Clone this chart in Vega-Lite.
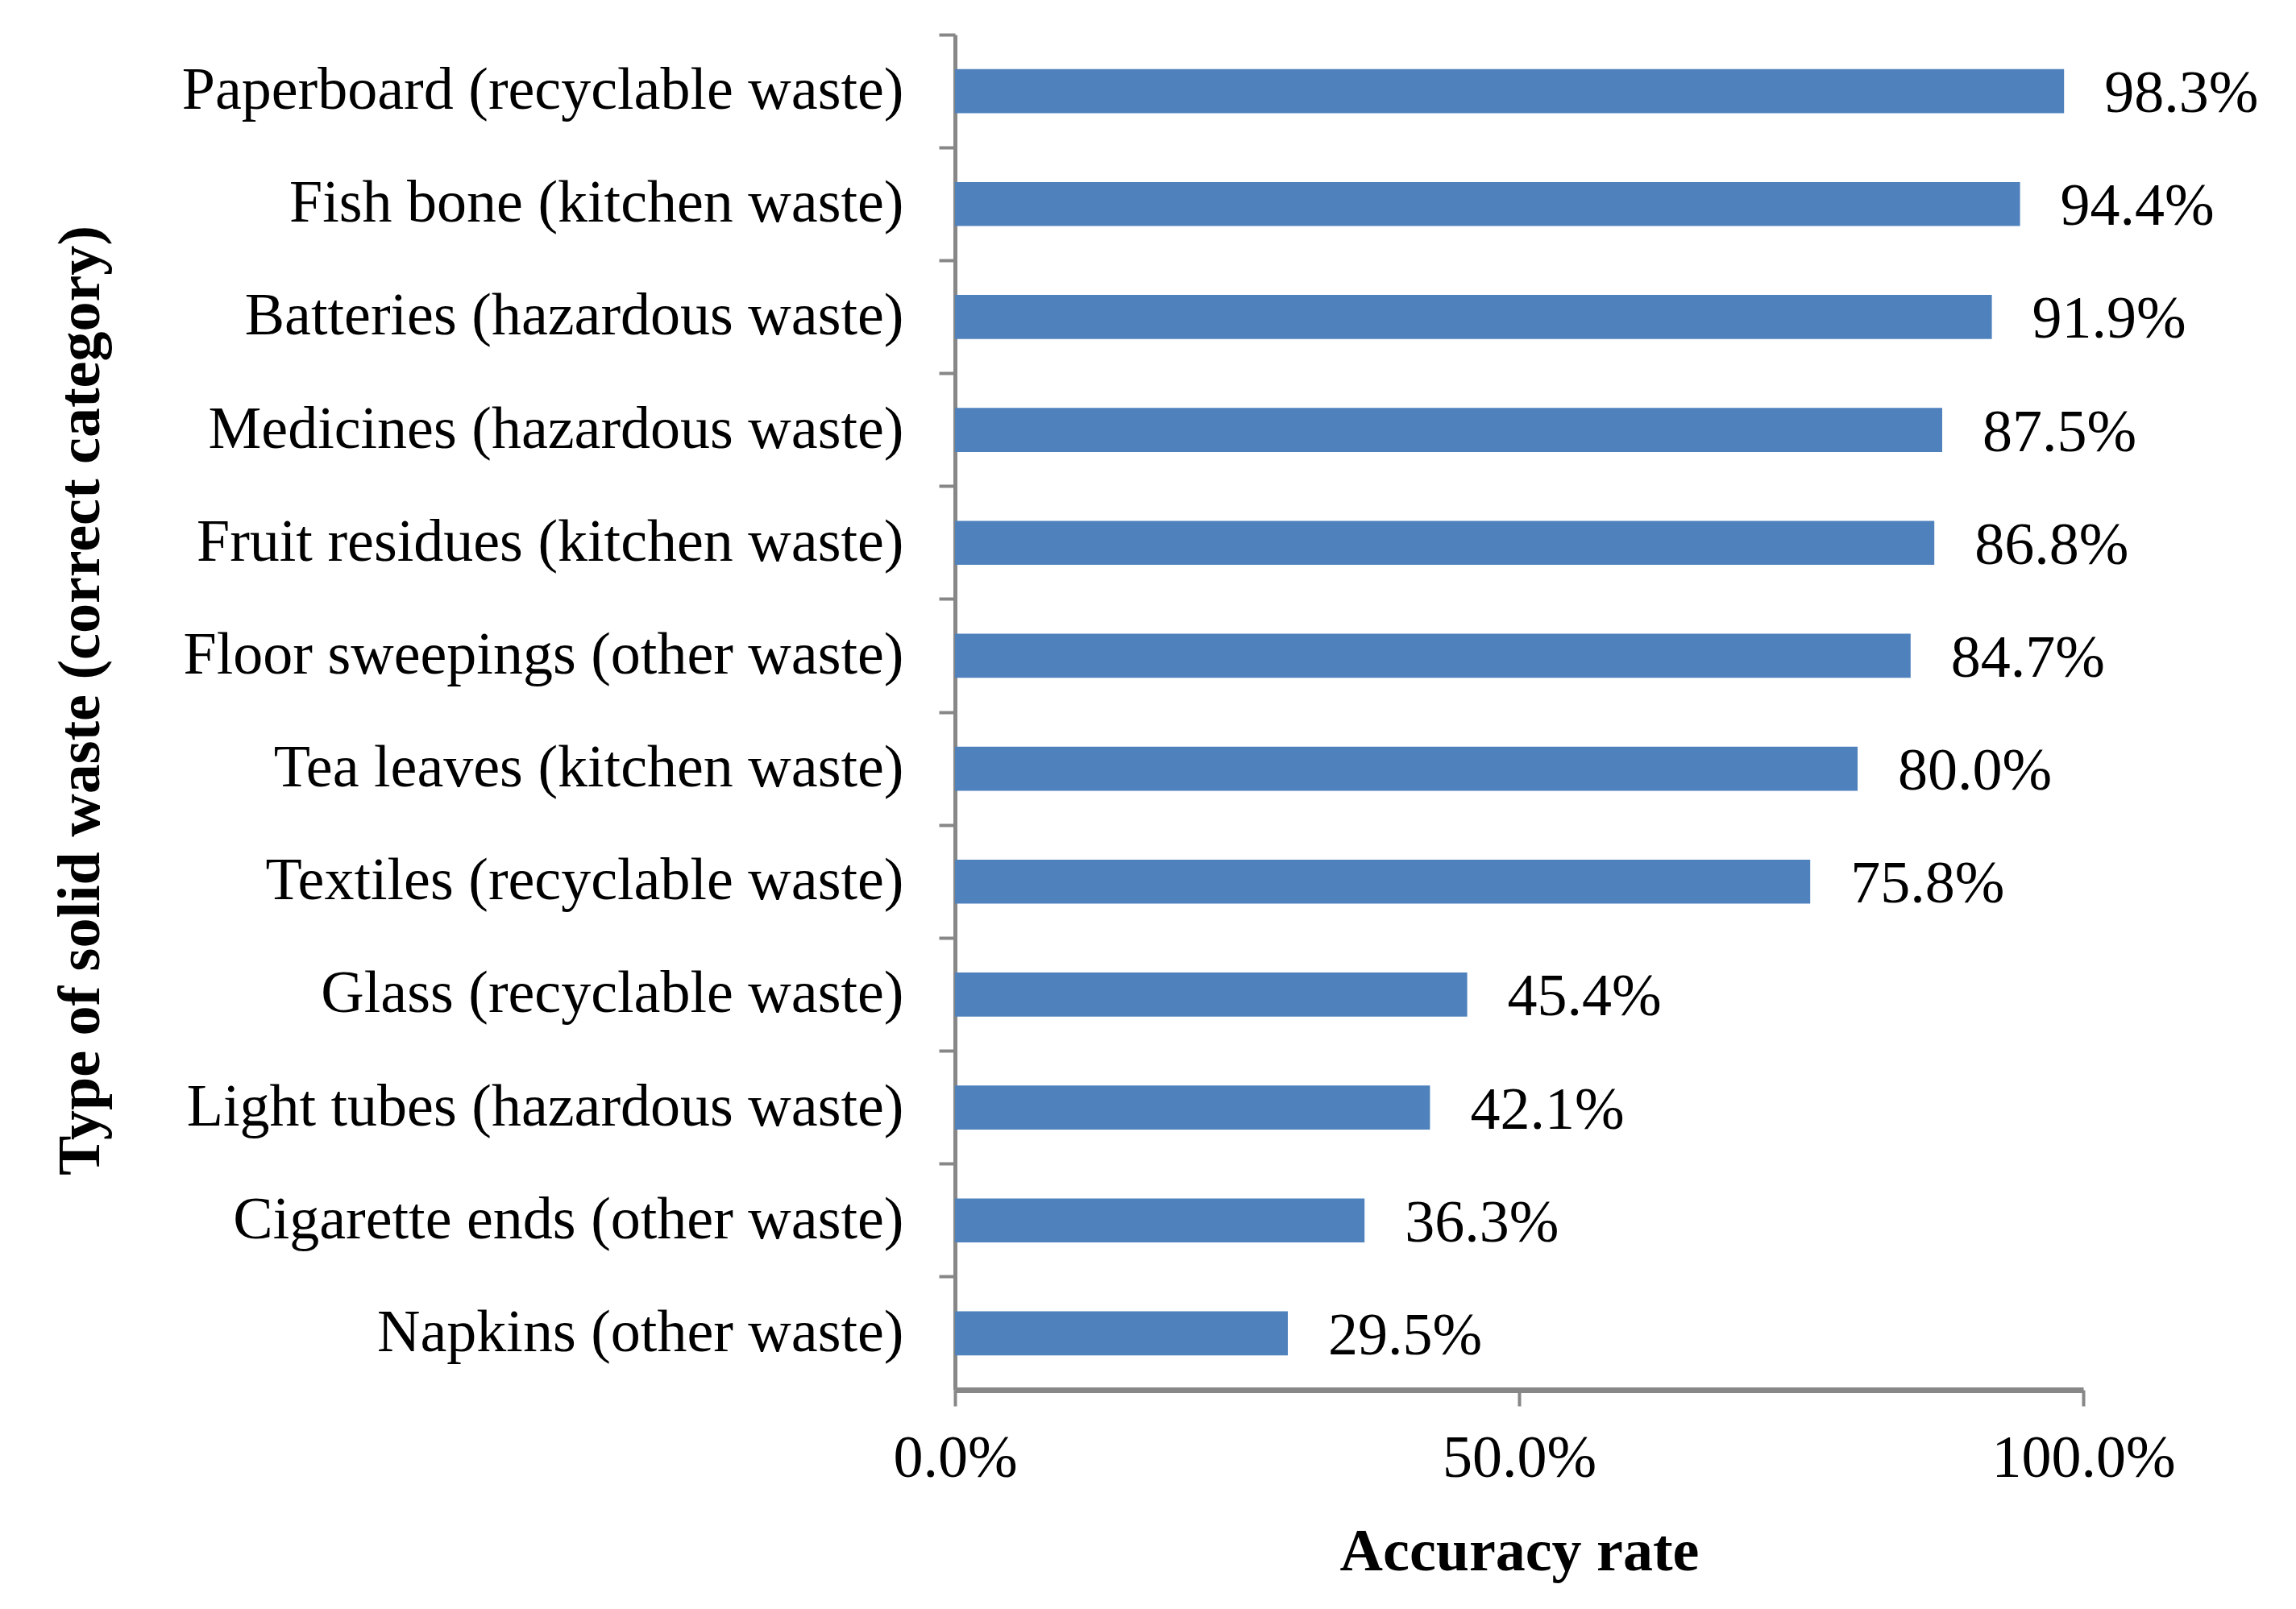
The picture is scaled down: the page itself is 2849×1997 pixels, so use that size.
{
  "$schema": "https://vega.github.io/schema/vega-lite/v6.json",
  "width": 1400,
  "height": 1682,
  "autosize": {"type": "none"},
  "padding": {"left": 1185, "top": 43, "right": 264, "bottom": 272},
  "background": "white",
  "config": {
    "view": {"stroke": null},
    "font": "Liberation Serif"
  },
  "data": {
    "values": [
      {"category": "Paperboard (recyclable waste)", "rate": 0.983},
      {"category": "Fish bone (kitchen waste)", "rate": 0.944},
      {"category": "Batteries (hazardous waste)", "rate": 0.919},
      {"category": "Medicines (hazardous waste)", "rate": 0.875},
      {"category": "Fruit residues (kitchen waste)", "rate": 0.868},
      {"category": "Floor sweepings (other waste)", "rate": 0.847},
      {"category": "Tea leaves (kitchen waste)", "rate": 0.800},
      {"category": "Textiles  (recyclable waste)", "rate": 0.758},
      {"category": "Glass (recyclable waste)", "rate": 0.454},
      {"category": "Light tubes (hazardous waste)", "rate": 0.421},
      {"category": "Cigarette ends (other waste)", "rate": 0.363},
      {"category": "Napkins (other waste)", "rate": 0.295}
    ]
  },
  "encoding": {
    "y": {
      "field": "category",
      "type": "nominal",
      "sort": null,
      "scale": {"paddingInner": 0.61, "paddingOuter": 0.305},
      "axis": {
        "title": "Type of solid  waste (correct category)",
        "titleFont": "Liberation Serif",
        "titleFontSize": 74,
        "titleFontWeight": "bold",
        "titleColor": "black",
        "titleAngle": -90,
        "titleX": -1085,
        "titleY": 826,
        "titleAlign": "center",
        "titleBaseline": "middle",
        "labelFont": "Liberation Serif",
        "labelFontSize": 74,
        "labelColor": "black",
        "labelPadding": 44,
        "labelLimit": 2000,
        "tickSize": 20,
        "tickWidth": 4,
        "tickColor": "#878787",
        "domainColor": "#878787",
        "domainWidth": 5,
        "bandPosition": -0.78,
        "grid": false
      }
    },
    "x": {
      "field": "rate",
      "type": "quantitative",
      "scale": {"domain": [0, 1], "nice": false},
      "axis": {
        "title": "Accuracy rate",
        "titleFont": "Liberation Serif",
        "titleFontSize": 74,
        "titleFontWeight": "bold",
        "titleColor": "black",
        "titleBaseline": "alphabetic",
        "titleY": 223,
        "values": [0, 0.5, 1],
        "format": ".1%",
        "labelFont": "Liberation Serif",
        "labelFontSize": 74,
        "labelColor": "black",
        "labelBaseline": "alphabetic",
        "labelPadding": 87,
        "labelFlush": false,
        "labelOverlap": false,
        "labelLimit": 1000,
        "tickSize": 20,
        "tickWidth": 4,
        "tickColor": "#878787",
        "domainColor": "#878787",
        "domainWidth": 7,
        "grid": false
      }
    }
  },
  "layer": [
    {"mark": {"type": "bar", "color": "#4F81BD"}},
    {
      "mark": {
        "type": "text",
        "align": "left",
        "baseline": "middle",
        "dx": 50,
        "dy": 4,
        "font": "Liberation Serif",
        "fontSize": 74,
        "color": "black"
      },
      "encoding": {"text": {"field": "rate", "type": "quantitative", "format": ".1%"}}
    }
  ]
}
